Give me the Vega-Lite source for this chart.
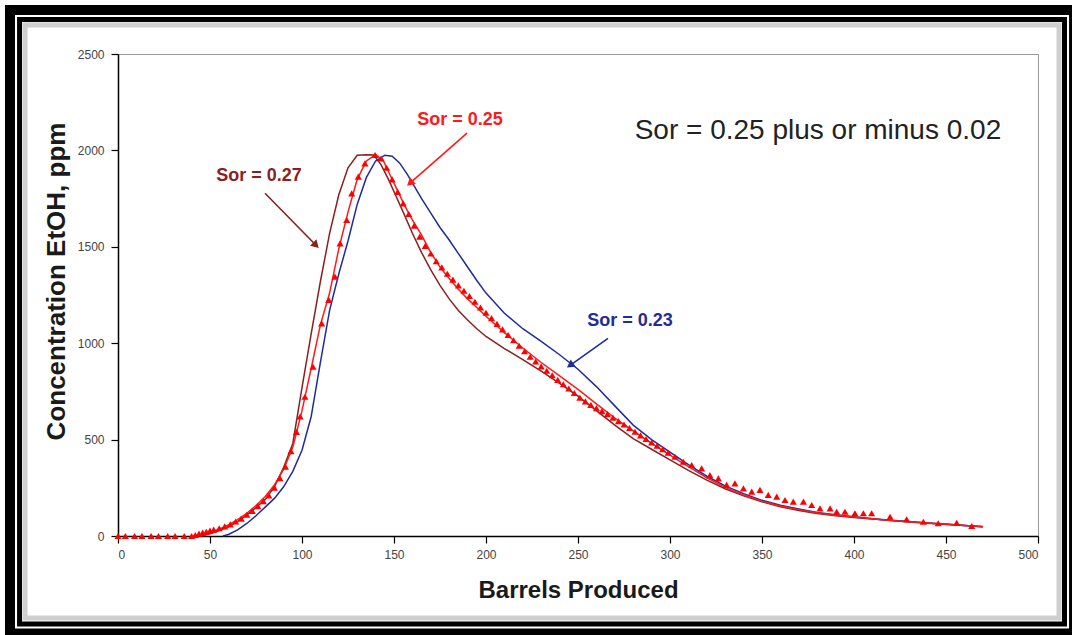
{
  "$schema": "https://vega.github.io/schema/vega-lite/v6.json",
  "width": 920,
  "height": 482,
  "autosize": {"type": "none"},
  "padding": {"left": 118, "top": 54, "right": 34, "bottom": 99},
  "background": "white",
  "config": {
    "font": "Liberation Sans",
    "view": {"stroke": "#9a9a9a", "strokeWidth": 1},
    "axis": {
      "grid": false,
      "domainColor": "#000000",
      "domainWidth": 1.5,
      "tickColor": "#000000",
      "tickWidth": 1.2,
      "tickSize": 7,
      "labelFont": "Liberation Sans",
      "labelFontSize": 12,
      "labelColor": "#444444",
      "titleFont": "Liberation Sans",
      "titleFontWeight": "bold",
      "titleColor": "#1a1a1a",
      "zindex": 1
    }
  },
  "datasets": {
    "curves": [
      {"series": "Sor = 0.27", "x": 45, "y": 0}, {"series": "Sor = 0.27", "x": 50, "y": 12}, {"series": "Sor = 0.27", "x": 55, "y": 28}, {"series": "Sor = 0.27", "x": 60, "y": 48}, {"series": "Sor = 0.27", "x": 65, "y": 75}, {"series": "Sor = 0.27", "x": 70, "y": 110}, {"series": "Sor = 0.27", "x": 75, "y": 148}, {"series": "Sor = 0.27", "x": 80, "y": 190}, {"series": "Sor = 0.27", "x": 85, "y": 255}, {"series": "Sor = 0.27", "x": 90, "y": 355}, {"series": "Sor = 0.27", "x": 95, "y": 480}, {"series": "Sor = 0.27", "x": 100, "y": 770}, {"series": "Sor = 0.27", "x": 105, "y": 1050}, {"series": "Sor = 0.27", "x": 110, "y": 1320}, {"series": "Sor = 0.27", "x": 115, "y": 1570}, {"series": "Sor = 0.27", "x": 120, "y": 1770}, {"series": "Sor = 0.27", "x": 125, "y": 1910}, {"series": "Sor = 0.27", "x": 130, "y": 1975}, {"series": "Sor = 0.27", "x": 135, "y": 1978}, {"series": "Sor = 0.27", "x": 139, "y": 1976}, {"series": "Sor = 0.27", "x": 143, "y": 1925}, {"series": "Sor = 0.27", "x": 147, "y": 1850}, {"series": "Sor = 0.27", "x": 151, "y": 1765}, {"series": "Sor = 0.27", "x": 155, "y": 1680}, {"series": "Sor = 0.27", "x": 160, "y": 1570}, {"series": "Sor = 0.27", "x": 165, "y": 1470}, {"series": "Sor = 0.27", "x": 170, "y": 1380}, {"series": "Sor = 0.27", "x": 175, "y": 1300}, {"series": "Sor = 0.27", "x": 180, "y": 1230}, {"series": "Sor = 0.27", "x": 185, "y": 1170}, {"series": "Sor = 0.27", "x": 190, "y": 1120}, {"series": "Sor = 0.27", "x": 195, "y": 1075}, {"series": "Sor = 0.27", "x": 200, "y": 1035}, {"series": "Sor = 0.27", "x": 210, "y": 972}, {"series": "Sor = 0.27", "x": 220, "y": 915}, {"series": "Sor = 0.27", "x": 230, "y": 855}, {"series": "Sor = 0.27", "x": 240, "y": 792}, {"series": "Sor = 0.27", "x": 250, "y": 725}, {"series": "Sor = 0.27", "x": 260, "y": 650}, {"series": "Sor = 0.27", "x": 270, "y": 575}, {"series": "Sor = 0.27", "x": 280, "y": 505}, {"series": "Sor = 0.27", "x": 290, "y": 450}, {"series": "Sor = 0.27", "x": 300, "y": 395}, {"series": "Sor = 0.27", "x": 310, "y": 340}, {"series": "Sor = 0.27", "x": 320, "y": 290}, {"series": "Sor = 0.27", "x": 330, "y": 245}, {"series": "Sor = 0.27", "x": 340, "y": 208}, {"series": "Sor = 0.27", "x": 350, "y": 178}, {"series": "Sor = 0.27", "x": 360, "y": 152}, {"series": "Sor = 0.27", "x": 370, "y": 132}, {"series": "Sor = 0.27", "x": 380, "y": 117}, {"series": "Sor = 0.27", "x": 390, "y": 105}, {"series": "Sor = 0.27", "x": 400, "y": 96}, {"series": "Sor = 0.27", "x": 410, "y": 88}, {"series": "Sor = 0.27", "x": 420, "y": 80}, {"series": "Sor = 0.27", "x": 430, "y": 73}, {"series": "Sor = 0.27", "x": 440, "y": 66}, {"series": "Sor = 0.27", "x": 450, "y": 60}, {"series": "Sor = 0.27", "x": 460, "y": 54}, {"series": "Sor = 0.27", "x": 470, "y": 48},

      {"series": "Sor = 0.23", "x": 57, "y": 0}, {"series": "Sor = 0.23", "x": 60, "y": 8}, {"series": "Sor = 0.23", "x": 65, "y": 32}, {"series": "Sor = 0.23", "x": 70, "y": 65}, {"series": "Sor = 0.23", "x": 75, "y": 105}, {"series": "Sor = 0.23", "x": 80, "y": 150}, {"series": "Sor = 0.23", "x": 85, "y": 195}, {"series": "Sor = 0.23", "x": 90, "y": 255}, {"series": "Sor = 0.23", "x": 95, "y": 335}, {"series": "Sor = 0.23", "x": 100, "y": 445}, {"series": "Sor = 0.23", "x": 105, "y": 620}, {"series": "Sor = 0.23", "x": 110, "y": 900}, {"series": "Sor = 0.23", "x": 115, "y": 1170}, {"series": "Sor = 0.23", "x": 120, "y": 1360}, {"series": "Sor = 0.23", "x": 125, "y": 1530}, {"series": "Sor = 0.23", "x": 130, "y": 1720}, {"series": "Sor = 0.23", "x": 135, "y": 1860}, {"series": "Sor = 0.23", "x": 140, "y": 1945}, {"series": "Sor = 0.23", "x": 145, "y": 1975}, {"series": "Sor = 0.23", "x": 149, "y": 1970}, {"series": "Sor = 0.23", "x": 153, "y": 1935}, {"series": "Sor = 0.23", "x": 157, "y": 1880}, {"series": "Sor = 0.23", "x": 161, "y": 1815}, {"series": "Sor = 0.23", "x": 165, "y": 1750}, {"series": "Sor = 0.23", "x": 170, "y": 1675}, {"series": "Sor = 0.23", "x": 175, "y": 1600}, {"series": "Sor = 0.23", "x": 180, "y": 1535}, {"series": "Sor = 0.23", "x": 185, "y": 1465}, {"series": "Sor = 0.23", "x": 190, "y": 1395}, {"series": "Sor = 0.23", "x": 195, "y": 1325}, {"series": "Sor = 0.23", "x": 200, "y": 1260}, {"series": "Sor = 0.23", "x": 210, "y": 1155}, {"series": "Sor = 0.23", "x": 220, "y": 1075}, {"series": "Sor = 0.23", "x": 230, "y": 1010}, {"series": "Sor = 0.23", "x": 240, "y": 940}, {"series": "Sor = 0.23", "x": 250, "y": 865}, {"series": "Sor = 0.23", "x": 260, "y": 775}, {"series": "Sor = 0.23", "x": 270, "y": 675}, {"series": "Sor = 0.23", "x": 280, "y": 575}, {"series": "Sor = 0.23", "x": 290, "y": 500}, {"series": "Sor = 0.23", "x": 300, "y": 435}, {"series": "Sor = 0.23", "x": 310, "y": 370}, {"series": "Sor = 0.23", "x": 320, "y": 310}, {"series": "Sor = 0.23", "x": 330, "y": 260}, {"series": "Sor = 0.23", "x": 340, "y": 220}, {"series": "Sor = 0.23", "x": 350, "y": 185}, {"series": "Sor = 0.23", "x": 360, "y": 160}, {"series": "Sor = 0.23", "x": 370, "y": 140}, {"series": "Sor = 0.23", "x": 380, "y": 122}, {"series": "Sor = 0.23", "x": 390, "y": 110}, {"series": "Sor = 0.23", "x": 400, "y": 100}, {"series": "Sor = 0.23", "x": 410, "y": 90}, {"series": "Sor = 0.23", "x": 420, "y": 82}, {"series": "Sor = 0.23", "x": 430, "y": 75}, {"series": "Sor = 0.23", "x": 440, "y": 68}, {"series": "Sor = 0.23", "x": 450, "y": 62}, {"series": "Sor = 0.23", "x": 460, "y": 55}, {"series": "Sor = 0.23", "x": 470, "y": 48},

      {"series": "Sor = 0.25", "x": 42, "y": 0}, {"series": "Sor = 0.25", "x": 45, "y": 6}, {"series": "Sor = 0.25", "x": 50, "y": 18}, {"series": "Sor = 0.25", "x": 55, "y": 35}, {"series": "Sor = 0.25", "x": 60, "y": 57}, {"series": "Sor = 0.25", "x": 65, "y": 85}, {"series": "Sor = 0.25", "x": 70, "y": 118}, {"series": "Sor = 0.25", "x": 75, "y": 158}, {"series": "Sor = 0.25", "x": 80, "y": 205}, {"series": "Sor = 0.25", "x": 85, "y": 265}, {"series": "Sor = 0.25", "x": 90, "y": 345}, {"series": "Sor = 0.25", "x": 95, "y": 460}, {"series": "Sor = 0.25", "x": 100, "y": 650}, {"series": "Sor = 0.25", "x": 105, "y": 870}, {"series": "Sor = 0.25", "x": 110, "y": 1095}, {"series": "Sor = 0.25", "x": 115, "y": 1260}, {"series": "Sor = 0.25", "x": 120, "y": 1490}, {"series": "Sor = 0.25", "x": 125, "y": 1680}, {"series": "Sor = 0.25", "x": 130, "y": 1850}, {"series": "Sor = 0.25", "x": 135, "y": 1945}, {"series": "Sor = 0.25", "x": 140, "y": 1978}, {"series": "Sor = 0.25", "x": 144, "y": 1950}, {"series": "Sor = 0.25", "x": 148, "y": 1870}, {"series": "Sor = 0.25", "x": 152, "y": 1790}, {"series": "Sor = 0.25", "x": 156, "y": 1710}, {"series": "Sor = 0.25", "x": 160, "y": 1640}, {"series": "Sor = 0.25", "x": 165, "y": 1560}, {"series": "Sor = 0.25", "x": 170, "y": 1470}, {"series": "Sor = 0.25", "x": 175, "y": 1395}, {"series": "Sor = 0.25", "x": 180, "y": 1335}, {"series": "Sor = 0.25", "x": 185, "y": 1280}, {"series": "Sor = 0.25", "x": 190, "y": 1230}, {"series": "Sor = 0.25", "x": 195, "y": 1185}, {"series": "Sor = 0.25", "x": 200, "y": 1140}, {"series": "Sor = 0.25", "x": 210, "y": 1055}, {"series": "Sor = 0.25", "x": 220, "y": 975}, {"series": "Sor = 0.25", "x": 230, "y": 900}, {"series": "Sor = 0.25", "x": 240, "y": 830}, {"series": "Sor = 0.25", "x": 250, "y": 760}, {"series": "Sor = 0.25", "x": 260, "y": 685}, {"series": "Sor = 0.25", "x": 270, "y": 612}, {"series": "Sor = 0.25", "x": 280, "y": 545}, {"series": "Sor = 0.25", "x": 290, "y": 480}, {"series": "Sor = 0.25", "x": 300, "y": 420}, {"series": "Sor = 0.25", "x": 310, "y": 360}, {"series": "Sor = 0.25", "x": 320, "y": 302}, {"series": "Sor = 0.25", "x": 330, "y": 252}, {"series": "Sor = 0.25", "x": 340, "y": 213}, {"series": "Sor = 0.25", "x": 350, "y": 181}, {"series": "Sor = 0.25", "x": 360, "y": 156}, {"series": "Sor = 0.25", "x": 370, "y": 136}, {"series": "Sor = 0.25", "x": 380, "y": 120}, {"series": "Sor = 0.25", "x": 390, "y": 108}, {"series": "Sor = 0.25", "x": 400, "y": 98}, {"series": "Sor = 0.25", "x": 410, "y": 89}, {"series": "Sor = 0.25", "x": 420, "y": 81}, {"series": "Sor = 0.25", "x": 430, "y": 74}, {"series": "Sor = 0.25", "x": 440, "y": 67}, {"series": "Sor = 0.25", "x": 450, "y": 61}, {"series": "Sor = 0.25", "x": 460, "y": 55}, {"series": "Sor = 0.25", "x": 470, "y": 49}
    ],
    "field": [
      {"x": 0, "y": 0}, {"x": 4, "y": 0}, {"x": 9, "y": 0}, {"x": 13, "y": 0}, {"x": 18, "y": 0}, {"x": 22, "y": 0}, {"x": 27, "y": 0}, {"x": 31, "y": 0}, {"x": 36, "y": 0}, {"x": 40, "y": 0},
      {"x": 42, "y": 5}, {"x": 44, "y": 12}, {"x": 46, "y": 18}, {"x": 48, "y": 22}, {"x": 50, "y": 28}, {"x": 52, "y": 33}, {"x": 55, "y": 40}, {"x": 58, "y": 50}, {"x": 61, "y": 60}, {"x": 64, "y": 75}, {"x": 67, "y": 90}, {"x": 70, "y": 110}, {"x": 73, "y": 130}, {"x": 76, "y": 155}, {"x": 79, "y": 180}, {"x": 82, "y": 210}, {"x": 85, "y": 250}, {"x": 88, "y": 300}, {"x": 91, "y": 360}, {"x": 94, "y": 440}, {"x": 97, "y": 540}, {"x": 99, "y": 620}, {"x": 101.6, "y": 722}, {"x": 106, "y": 878}, {"x": 110.7, "y": 1103}, {"x": 114.5, "y": 1225}, {"x": 117.9, "y": 1345}, {"x": 120.7, "y": 1518}, {"x": 124.3, "y": 1639}, {"x": 127, "y": 1777}, {"x": 130.6, "y": 1864}, {"x": 134.2, "y": 1933}, {"x": 139.7, "y": 1976},
      {"x": 143, "y": 1958}, {"x": 146, "y": 1910}, {"x": 149, "y": 1850}, {"x": 152, "y": 1785}, {"x": 155, "y": 1725}, {"x": 158, "y": 1670}, {"x": 161, "y": 1610}, {"x": 164, "y": 1553}, {"x": 167, "y": 1505}, {"x": 170, "y": 1465}, {"x": 173, "y": 1425}, {"x": 176, "y": 1393}, {"x": 179, "y": 1360}, {"x": 182, "y": 1330}, {"x": 185, "y": 1300}, {"x": 188, "y": 1272}, {"x": 191, "y": 1245}, {"x": 194, "y": 1215}, {"x": 197, "y": 1185}, {"x": 200, "y": 1158}, {"x": 203, "y": 1130}, {"x": 206, "y": 1100}, {"x": 209, "y": 1072}, {"x": 212, "y": 1043}, {"x": 215, "y": 1015}, {"x": 218, "y": 987}, {"x": 221, "y": 958}, {"x": 224, "y": 930}, {"x": 227, "y": 905}, {"x": 230, "y": 880}, {"x": 233, "y": 857}, {"x": 236, "y": 834}, {"x": 239, "y": 810}, {"x": 242, "y": 787}, {"x": 245, "y": 765}, {"x": 248, "y": 742}, {"x": 251, "y": 718}, {"x": 254, "y": 698}, {"x": 257, "y": 680}, {"x": 260, "y": 663}, {"x": 263, "y": 648}, {"x": 266, "y": 632}, {"x": 269, "y": 614}, {"x": 272, "y": 596}, {"x": 275, "y": 578}, {"x": 278, "y": 560}, {"x": 281, "y": 541}, {"x": 284, "y": 522}, {"x": 287, "y": 503}, {"x": 290, "y": 485}, {"x": 293, "y": 468}, {"x": 296, "y": 450}, {"x": 299, "y": 432},
      {"x": 302.7, "y": 411}, {"x": 307.2, "y": 385}, {"x": 311.8, "y": 368}, {"x": 317.2, "y": 351}, {"x": 321.7, "y": 316}, {"x": 326.3, "y": 299}, {"x": 330.8, "y": 265}, {"x": 335.3, "y": 273}, {"x": 339.9, "y": 247}, {"x": 344.4, "y": 230}, {"x": 348.9, "y": 239}, {"x": 353.4, "y": 213}, {"x": 358, "y": 204}, {"x": 362.5, "y": 187}, {"x": 367, "y": 178}, {"x": 372.5, "y": 178}, {"x": 377, "y": 161}, {"x": 381.5, "y": 143}, {"x": 387, "y": 143}, {"x": 390.6, "y": 126}, {"x": 395.1, "y": 126}, {"x": 400.5, "y": 118}, {"x": 405.1, "y": 118}, {"x": 409.6, "y": 118}, {"x": 419.6, "y": 100}, {"x": 428.6, "y": 87}, {"x": 437.7, "y": 74}, {"x": 445.8, "y": 66}, {"x": 455.8, "y": 69}, {"x": 464, "y": 52}
    ],
    "labels": [
      {"series": "Sor = 0.27", "text": "Sor = 0.27", "x": 76.6, "y": 1867},
      {"series": "Sor = 0.25", "text": "Sor = 0.25", "x": 185.9, "y": 2157},
      {"series": "Sor = 0.23", "text": "Sor = 0.23", "x": 278.3, "y": 1114}
    ],
    "arrows": [
      {"series": "Sor = 0.27", "x": 79.9, "y": 1778, "x2": 107.6, "y2": 1508},
      {"series": "Sor = 0.25", "x": 189.7, "y": 2090, "x2": 158.7, "y2": 1830},
      {"series": "Sor = 0.23", "x": 266.3, "y": 1025, "x2": 245.7, "y2": 885}
    ],
    "note": [
      {"text": "Sor = 0.25 plus or minus 0.02", "x": 380.4, "y": 2100}
    ]
  },
  "layer": [
    {
      "data": {"values": [{}]},
      "mark": {"type": "rect", "fill": "transparent", "stroke": "#000000", "strokeWidth": 10, "clip": false},
      "encoding": {
        "x": {"datum": -58.7, "type": "quantitative"},
        "x2": {"datum": 519.6},
        "y": {"datum": 2728, "type": "quantitative"},
        "y2": {"datum": -506}
      }
    },
    {
      "data": {"values": [{}]},
      "mark": {"type": "rect", "fill": "transparent", "stroke": "#000000", "strokeWidth": 5, "clip": false},
      "encoding": {
        "x": {"datum": -53.5, "type": "quantitative"},
        "x2": {"datum": 514.4},
        "y": {"datum": 2679, "type": "quantitative"},
        "y2": {"datum": -457}
      }
    },
    {
      "data": {"values": [{}]},
      "mark": {"type": "rect", "fill": "transparent", "stroke": "#cfcfcf", "strokeWidth": 5, "clip": false},
      "encoding": {
        "x": {"datum": -50.5, "type": "quantitative"},
        "x2": {"datum": 511.4},
        "y": {"datum": 2650, "type": "quantitative"},
        "y2": {"datum": -425}
      }
    },
    {
      "data": {"name": "curves"},
      "mark": {"type": "line", "strokeWidth": 1.5},
      "encoding": {
        "x": {"field": "x", "type": "quantitative", "scale": {"domain": [0, 500], "nice": false},
              "axis": {"title": "Barrels Produced", "format": "d", "values": [0, 50, 100, 150, 200, 250, 300, 350, 400, 450, 500], "titleFontSize": 24, "titlePadding": 18, "labelPadding": 6}},
        "y": {"field": "y", "type": "quantitative", "scale": {"domain": [0, 2500], "nice": false},
              "axis": {"title": "Concentration EtOH, ppm", "format": "d", "values": [0, 500, 1000, 1500, 2000, 2500], "titleFontSize": 26, "titlePadding": 8, "labelPadding": 7, "titleY": 227}},
        "color": {"field": "series", "type": "nominal",
                  "scale": {"domain": ["Sor = 0.27", "Sor = 0.25", "Sor = 0.23"], "range": ["#8B1F1F", "#FF1A1A", "#1F2C9C"]},
                  "legend": null},
        "detail": {"field": "series"}
      }
    },
    {
      "data": {"name": "field"},
      "mark": {"type": "point", "shape": "triangle-up", "filled": true, "color": "#FF0000", "size": 50, "opacity": 1},
      "encoding": {
        "x": {"field": "x", "type": "quantitative"},
        "y": {"field": "y", "type": "quantitative"}
      }
    },
    {
      "data": {"name": "arrows"},
      "mark": {"type": "rule", "strokeWidth": 1.6},
      "encoding": {
        "x": {"field": "x", "type": "quantitative"},
        "y": {"field": "y", "type": "quantitative"},
        "x2": {"field": "x2"},
        "y2": {"field": "y2"},
        "color": {"field": "series", "type": "nominal", "legend": null}
      }
    },
    {
      "data": {"name": "arrows"},
      "transform": [{"filter": "datum.series === 'Sor = 0.27'"}],
      "mark": {"type": "point", "shape": "triangle-up", "filled": true, "size": 80, "angle": 135, "opacity": 1},
      "encoding": {
        "x": {"field": "x2", "type": "quantitative"},
        "y": {"field": "y2", "type": "quantitative"},
        "color": {"field": "series", "type": "nominal", "legend": null}
      }
    },
    {
      "data": {"name": "arrows"},
      "transform": [{"filter": "datum.series === 'Sor = 0.25'"}],
      "mark": {"type": "point", "shape": "triangle-up", "filled": true, "size": 80, "angle": 229, "opacity": 1},
      "encoding": {
        "x": {"field": "x2", "type": "quantitative"},
        "y": {"field": "y2", "type": "quantitative"},
        "color": {"field": "series", "type": "nominal", "legend": null}
      }
    },
    {
      "data": {"name": "arrows"},
      "transform": [{"filter": "datum.series === 'Sor = 0.23'"}],
      "mark": {"type": "point", "shape": "triangle-up", "filled": true, "size": 80, "angle": 235, "opacity": 1},
      "encoding": {
        "x": {"field": "x2", "type": "quantitative"},
        "y": {"field": "y2", "type": "quantitative"},
        "color": {"field": "series", "type": "nominal", "legend": null}
      }
    },
    {
      "data": {"name": "labels"},
      "mark": {"type": "text", "fontSize": 18, "fontWeight": "bold", "font": "Liberation Sans", "align": "center", "baseline": "middle"},
      "encoding": {
        "x": {"field": "x", "type": "quantitative"},
        "y": {"field": "y", "type": "quantitative"},
        "text": {"field": "text"},
        "color": {"field": "series", "type": "nominal", "legend": null}
      }
    },
    {
      "data": {"name": "note"},
      "mark": {"type": "text", "fontSize": 28, "font": "Liberation Sans", "color": "#222222", "align": "center", "baseline": "middle"},
      "encoding": {
        "x": {"field": "x", "type": "quantitative"},
        "y": {"field": "y", "type": "quantitative"},
        "text": {"field": "text"}
      }
    }
  ]
}
